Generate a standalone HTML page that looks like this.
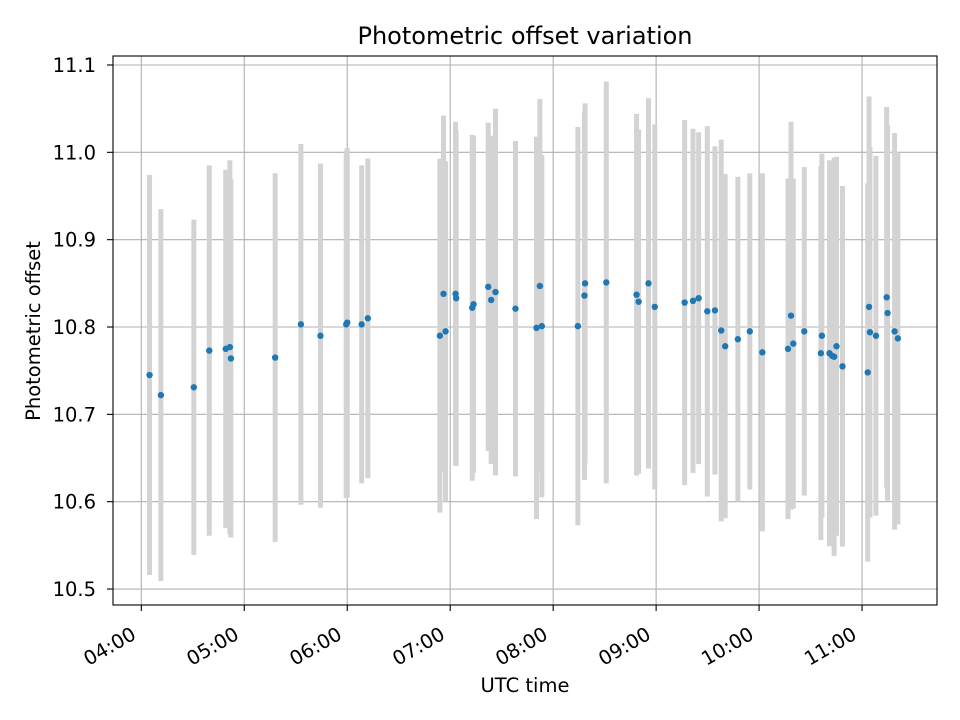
<!DOCTYPE html>
<html><head><meta charset="utf-8">
<style>
html,body{margin:0;padding:0;background:#fff;}
svg{display:block;font-family:"DejaVu Sans","Liberation Sans",sans-serif;}
</style></head>
<body>
<svg id="chart" width="960" height="720" viewBox="0 0 960 720">
<rect width="960" height="720" fill="#fff"/>
<g id="grid"></g>
<g id="bars"></g>
<g id="dots"></g>
<g id="axes"></g>
<text x="525" y="44" text-anchor="middle" font-size="24" fill="#000">Photometric offset variation</text>
<text x="525" y="692" text-anchor="middle" font-size="19.5" fill="#000">UTC time</text>
<text transform="translate(40,331) rotate(-90)" text-anchor="middle" font-size="19.5" fill="#000">Photometric offset</text>
</svg>
<script>
const times=[4.08,4.19,4.51,4.66,4.82,4.86,4.87,5.30,5.55,5.74,5.99,6.00,6.14,6.20,
6.90,6.935,6.955,7.052,7.058,7.214,7.227,7.369,7.398,7.44,7.634,7.838,7.871,7.89,8.24,8.304,8.31,8.516,8.81,8.83,8.926,8.987,
9.277,9.358,9.413,9.497,9.571,9.632,9.671,9.794,9.91,10.032,10.281,10.31,10.332,10.439,10.6,10.61,10.684,10.71,10.729,10.752,10.81,11.055,11.068,11.077,11.135,11.239,11.248,11.316,11.348];
const offsets=[10.745,10.722,10.731,10.773,10.775,10.777,10.764,10.765,10.803,10.79,10.803,10.805,10.803,10.81,
10.79,10.838,10.795,10.838,10.833,10.822,10.826,10.846,10.831,10.84,10.821,10.799,10.847,10.801,10.801,10.836,10.85,10.851,10.837,10.829,10.85,10.823,
10.828,10.83,10.833,10.818,10.819,10.796,10.778,10.786,10.795,10.771,10.775,10.813,10.781,10.795,10.77,10.79,10.77,10.767,10.766,10.778,10.755,10.748,10.823,10.794,10.79,10.834,10.816,10.795,10.787];
const errors=[0.229,0.213,0.192,0.212,0.205,0.214,0.205,0.211,0.2065,0.197,0.199,0.2,0.182,0.183,
0.2026,0.204,0.195,0.197,0.192,0.198,0.193,0.188,0.188,0.21,0.192,0.219,0.214,0.196,0.228,0.211,0.206,0.23,0.207,0.197,0.212,0.209,
0.209,0.197,0.19,0.212,0.188,0.2186,0.197,0.186,0.181,0.205,0.195,0.222,0.189,0.188,0.214,0.2085,0.221,0.217,0.228,0.217,0.2065,0.2166,0.241,0.212,0.206,0.218,0.215,0.227,0.213];
const xTicks=[4,5,6,7,8,9,10,11];
const xTickLabels=["04:00","05:00","06:00","07:00","08:00","09:00","10:00","11:00"];
const yTicks=[10.5,10.6,10.7,10.8,10.9,11.0,11.1];
const yTickLabels=["10.5","10.6","10.7","10.8","10.9","11.0","11.1"];

const L=113,R=937,T=56,B=605;
const xMin=3.725,xMax=11.728,yMin=10.4817,yMax=11.1103;
const X=v=>L+(v-xMin)/(xMax-xMin)*(R-L);
const Y=v=>B-(v-yMin)/(yMax-yMin)*(B-T);
const NS="http://www.w3.org/2000/svg";
function mk(tag,attrs,parent){const e=document.createElementNS(NS,tag);for(const k in attrs)e.setAttribute(k,attrs[k]);parent.appendChild(e);return e;}
const grid=document.getElementById('grid'),bars=document.getElementById('bars'),dots=document.getElementById('dots'),axes=document.getElementById('axes');

xTicks.forEach((t,i)=>{
  const x=X(t);
  const g=mk('line',{x1:x,x2:x,y1:T,y2:B,stroke:'#b0b0b0','stroke-width':1.1},grid);
  
  
  const tk=mk('line',{x1:x,x2:x,y1:B,y2:B+6,stroke:'#000','stroke-width':1.1},axes);
  
  
  const lb=mk('text',{transform:`translate(${x-4},${B+33}) rotate(-30)`,'text-anchor':'end','font-size':19.5,fill:'#000'},axes);
  lb.textContent=xTickLabels[i];
  
  
});
yTicks.forEach((t,i)=>{
  const y=Y(t);
  const g=mk('line',{x1:L,x2:R,y1:y,y2:y,stroke:'#b0b0b0','stroke-width':1.1},grid);
  
  
  const tk=mk('line',{x1:L-6,x2:L,y1:y,y2:y,stroke:'#000','stroke-width':1.1},axes);
  
  
  const lb=mk('text',{x:L-17,y:y+7,'text-anchor':'end','font-size':19.5,fill:'#000'},axes);
  lb.textContent=yTickLabels[i];
  
  
});
times.forEach((t,i)=>{
  const x=X(t);
  const b=mk('line',{x1:x,x2:x,y1:Y(offsets[i]+errors[i]),y2:Y(offsets[i]-errors[i]),stroke:'#d3d3d3','stroke-width':5},bars);
  
  
  const d=mk('circle',{cx:x,cy:Y(offsets[i]),r:3.2,fill:'#1f77b4'},dots);
  
  
});
const fr=mk('rect',{x:L,y:T,width:R-L,height:B-T,fill:'none',stroke:'#000','stroke-width':1.1},axes);


</script>
</body></html>
